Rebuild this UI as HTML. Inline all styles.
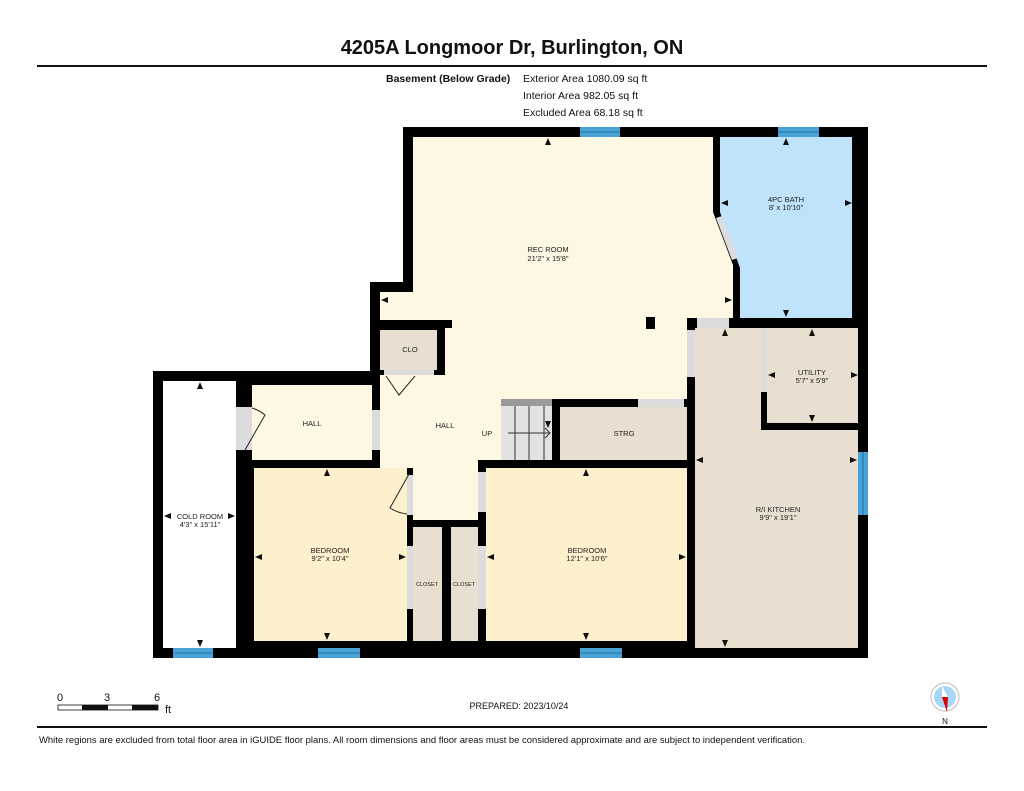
<!DOCTYPE html>
<html><head><meta charset="utf-8"><style>
html,body{margin:0;padding:0;background:#fff;}
svg{display:block;}
text{font-family:"Liberation Sans",Arial,sans-serif;}
</style></head><body>
<svg width="1024" height="791" viewBox="0 0 1024 791" xmlns="http://www.w3.org/2000/svg">
<rect width="1024" height="791" fill="#fff"/>
<text x="512" y="54" font-size="20" font-weight="bold" text-anchor="middle" fill="#111">4205A Longmoor Dr, Burlington, ON</text>
<rect x="37" y="65" width="950" height="2" fill="#111"/>
<text x="386" y="82" font-size="10.5" font-weight="bold" fill="#111">Basement (Below Grade)</text>
<text x="523" y="82" font-size="10.5" fill="#111">Exterior Area 1080.09 sq ft</text>
<text x="523" y="99" font-size="10.5" fill="#111">Interior Area 982.05 sq ft</text>
<text x="523" y="116" font-size="10.5" fill="#111">Excluded Area 68.18 sq ft</text>

<polygon points="403,127 868,127 868,658 153,658 153,371 370,371 370,282 403,282" fill="#000"/>
<polygon points="413,137 713,137 713,212 733,265 733,318 687,318 687,399 501,399 501,460 478,460 478,520 413,520 413,468 380,468 380,375 445,375 445,328 380,328 380,292 413,292" fill="#fdf7e3"/>
<rect x="380" y="320" width="72" height="8" fill="#000"/>
<rect x="437" y="320" width="8" height="55" fill="#000"/>
<rect x="380" y="330" width="57" height="40" fill="#e8dfd0"/>
<rect x="384" y="370" width="50" height="5" fill="#dcdcdc"/>
<polyline points="386,376 399,395 415,376" fill="none" stroke="#222" stroke-width="1"/>
<rect x="646" y="317" width="9" height="12" fill="#000"/>
<polygon points="720,137 852,137 852,318 740,318 740,268 720,212" fill="#bfe3fb"/>
<polygon points="716,218 722,216 738,258 732,260" fill="#dcdcdc"/>
<rect x="697" y="318" width="32" height="10" fill="#dcdcdc"/>
<rect x="695" y="328" width="163" height="320" fill="#e8dfd0"/>
<rect x="687" y="330" width="8" height="47" fill="#dcdcdc"/>
<rect x="761" y="392" width="6" height="38" fill="#000"/>
<rect x="761" y="423" width="97" height="7" fill="#000"/>
<rect x="761" y="328" width="6" height="64" fill="#dcdcdc"/>
<rect x="552" y="399" width="135" height="8" fill="#000"/>
<rect x="638" y="399" width="46" height="8" fill="#dcdcdc"/>
<rect x="560" y="407" width="127" height="53" fill="#e8dfd0"/>
<rect x="552" y="399" width="8" height="61" fill="#000"/>
<rect x="501" y="399" width="51" height="61" fill="#e2e2e2"/>
<rect x="501" y="399" width="51" height="7" fill="#9a9a9a"/>
<g stroke="#333" stroke-width="1"><line x1="515" y1="406" x2="515" y2="460"/><line x1="529" y1="406" x2="529" y2="460"/><line x1="544" y1="406" x2="544" y2="460"/><line x1="508" y1="433" x2="550" y2="433"/><polyline points="545,428 550,433 545,438" fill="none"/></g>
<rect x="252" y="385" width="120" height="75" fill="#fdf7e3"/>
<rect x="372" y="410" width="8" height="40" fill="#dcdcdc"/>
<rect x="236" y="407" width="16" height="43" fill="#dcdcdc"/>
<path d="M245,450 L265,415 A38,38 0 0 0 252,408" fill="none" stroke="#222" stroke-width="1"/>
<rect x="163" y="381" width="73" height="267" fill="#fff"/>
<rect x="254" y="468" width="153" height="173" fill="#fdf0cc"/>
<rect x="407" y="475" width="6" height="40" fill="#dcdcdc"/>
<rect x="407" y="546" width="6" height="63" fill="#dcdcdc"/>
<path d="M409,474 L390,508 A38,38 0 0 0 407,514" fill="none" stroke="#222" stroke-width="1"/>
<rect x="413" y="527" width="29" height="114" fill="#e8dfd0"/>
<rect x="451" y="527" width="27" height="114" fill="#e8dfd0"/>
<rect x="478" y="546" width="8" height="63" fill="#dcdcdc"/>
<rect x="478" y="472" width="8" height="40" fill="#dcdcdc"/>
<rect x="486" y="468" width="201" height="173" fill="#fdf0cc"/>
<g fill="#4aa3d8"><rect x="580" y="127" width="40" height="10"/><rect x="778" y="127" width="41" height="10"/><rect x="858" y="452" width="10" height="63"/><rect x="173" y="648" width="40" height="10"/><rect x="318" y="648" width="42" height="10"/><rect x="580" y="648" width="42" height="10"/></g>
<g stroke="#1a5f8a" stroke-width="0.8"><line x1="580" y1="132" x2="620" y2="132"/><line x1="778" y1="132" x2="819" y2="132"/><line x1="863" y1="452" x2="863" y2="515"/><line x1="173" y1="653" x2="213" y2="653"/><line x1="318" y1="653" x2="360" y2="653"/><line x1="580" y1="653" x2="622" y2="653"/></g>

<g font-size="7.5" fill="#222" text-anchor="middle">
<text x="548" y="252">REC ROOM</text><text x="548" y="261">21'2" x 15'8"</text>
<text x="786" y="202">4PC BATH</text><text x="786" y="210">8' x 10'10"</text>
<text x="410" y="352">CLO</text>
<text x="312" y="426">HALL</text>
<text x="445" y="428">HALL</text>
<text x="487" y="436">UP</text>
<text x="624" y="436">STRG</text>
<text x="812" y="375">UTILITY</text><text x="812" y="383">5'7" x 5'9"</text>
<text x="778" y="512">R/I KITCHEN</text><text x="778" y="520">9'9" x 19'1"</text>
<text x="200" y="519">COLD ROOM</text><text x="200" y="527">4'3" x 15'11"</text>
<text x="330" y="553">BEDROOM</text><text x="330" y="561">9'2" x 10'4"</text>
<text x="587" y="553">BEDROOM</text><text x="587" y="561">12'1" x 10'6"</text>
<text x="427" y="586" font-size="5.5">CLOSET</text><text x="464" y="586" font-size="5.5">CLOSET</text>
</g>
<g fill="#111">
<polygon points="548,138 545,145 551,145"/><polygon points="548,428 545,421 551,421"/>
<polygon points="786,138 783,145 789,145"/><polygon points="786,317 783,310 789,310"/>
<polygon points="721,203 728,200 728,206"/><polygon points="852,203 845,200 845,206"/>
<polygon points="381,300 388,297 388,303"/><polygon points="732,300 725,297 725,303"/>
<polygon points="812,329 809,336 815,336"/><polygon points="812,422 809,415 815,415"/>
<polygon points="768,375 775,372 775,378"/><polygon points="858,375 851,372 851,378"/>
<polygon points="725,329 722,336 728,336"/><polygon points="725,647 722,640 728,640"/>
<polygon points="696,460 703,457 703,463"/><polygon points="857,460 850,457 850,463"/>
<polygon points="200,382 197,389 203,389"/><polygon points="200,647 197,640 203,640"/>
<polygon points="164,516 171,513 171,519"/><polygon points="235,516 228,513 228,519"/>
<polygon points="327,469 324,476 330,476"/><polygon points="327,640 324,633 330,633"/>
<polygon points="255,557 262,554 262,560"/><polygon points="406,557 399,554 399,560"/>
<polygon points="586,469 583,476 589,476"/><polygon points="586,640 583,633 589,633"/>
<polygon points="487,557 494,554 494,560"/><polygon points="686,557 679,554 679,560"/>
</g>

<text x="57" y="701" font-size="11" fill="#111">0</text>
<text x="104" y="701" font-size="11" fill="#111">3</text>
<text x="154" y="701" font-size="11" fill="#111">6</text>
<rect x="58" y="705" width="100" height="5" fill="#fff" stroke="#111" stroke-width="0.8"/>
<rect x="82" y="705" width="26" height="5" fill="#111"/><rect x="132" y="705" width="26" height="5" fill="#111"/>
<text x="165" y="713" font-size="11" fill="#111">ft</text>
<text x="519" y="709" font-size="9" text-anchor="middle" fill="#111">PREPARED: 2023/10/24</text>
<circle cx="945" cy="697" r="14" fill="#fff" stroke="#bbb"/>
<circle cx="945" cy="697" r="11" fill="#a9d6f5"/>
<polygon points="942,686 948,697 942,697" fill="#fff"/>
<polygon points="942,697 948,697 947,712" fill="#d00"/>
<text x="945" y="724" font-size="8" text-anchor="middle" fill="#111">N</text>
<rect x="37" y="726" width="950" height="2" fill="#111"/>
<text x="39" y="743" font-size="9.4" textLength="766" lengthAdjust="spacingAndGlyphs" fill="#111">White regions are excluded from total floor area in iGUIDE floor plans. All room dimensions and floor areas must be considered approximate and are subject to independent verification.</text>
</svg>
</body></html>
